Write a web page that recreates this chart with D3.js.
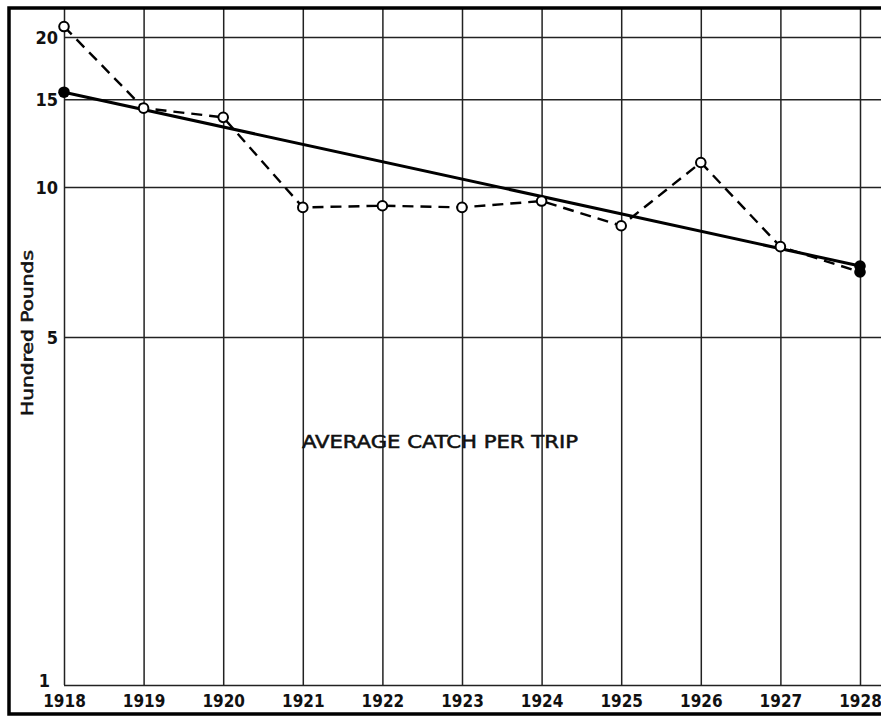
<!DOCTYPE html>
<html>
<head>
<meta charset="utf-8">
<script src="https://cdn.jsdelivr.net/npm/d3@7"></script>
<style>
  html, body { margin: 0; padding: 0; background: #fff; }
  svg { display: block; }
  .lbl { font-family: "Liberation Sans Narrow", "DejaVu Sans Condensed", "Liberation Sans", sans-serif; fill: #111; font-weight: bold; }
  .ttl { font-family: "DejaVu Sans Condensed", "Liberation Sans", sans-serif; fill: #111; stroke: #111; stroke-width: 0.5; }
</style>
</head>
<body>
<svg id="chart" width="881" height="717"></svg>
<script>
// Average catch per trip, hundreds of pounds, 1918-1928
const years = [1918, 1919, 1920, 1921, 1922, 1923, 1924, 1925, 1926, 1927, 1928];
const catchPerTrip = [21.0, 14.4, 13.8, 9.1, 9.17, 9.1, 9.37, 8.36, 11.2, 7.59, 6.75];
// Fitted trend (straight on the log scale), end points
const trendYears = [1918, 1928];
const trendValues = [15.5, 6.94];
const yTicks = [1, 5, 10, 15, 20];
const title = "AVERAGE CATCH PER TRIP";
const yTitle = "Hundred Pounds";

const W = 881, H = 717;
const plotLeft = 64, plotRight = 860, plotTop = 8, plotBottom = 685;
const frameLeft = 9, frameBottom = 714;

const svg = d3.select("#chart");

const x = d3.scaleLinear().domain([1918, 1928]).range([plotLeft, plotRight]);
const y = d3.scaleLog().domain([1, 10]).range([plotBottom, 187]);

// horizontal grid + y labels
const gy = svg.append("g")
  .attr("transform", `translate(${plotLeft},0)`)
  .call(d3.axisLeft(y).tickValues(yTicks).tickSize(-(W - plotLeft)).tickPadding(6).tickFormat(d3.format("d")));
gy.select(".domain").remove();
gy.selectAll(".tick line").attr("stroke", "#222").attr("stroke-width", 1.5);
gy.selectAll(".tick text").attr("class", "lbl").attr("font-size", 18)
  .attr("dy", d => d === 1 ? "0.1em" : "0.36em")
  .attr("dx", d => d === 1 ? -8 : 0);

// vertical grid + year labels
const gx = svg.append("g")
  .attr("transform", `translate(0,${plotBottom})`)
  .call(d3.axisBottom(x).tickValues(years).tickSize(-(plotBottom - plotTop)).tickPadding(10).tickFormat(d3.format("d")));
gx.select(".domain").remove();
gx.selectAll(".tick line").attr("stroke", "#222").attr("stroke-width", 1.5);
gx.selectAll(".tick text").attr("class", "lbl").attr("font-size", 17);

// frame
svg.append("path")
  .attr("d", `M${W},${plotTop}H${frameLeft}V${frameBottom}H${W}`)
  .attr("fill", "none").attr("stroke", "#000").attr("stroke-width", 3.5);

// observed series: dashed with open circles
const pts = years.map((yr, i) => [yr, catchPerTrip[i]]);
const line = d3.line().x(d => x(d[0])).y(d => y(d[1]));
svg.append("path")
  .datum(pts)
  .attr("d", line)
  .attr("fill", "none").attr("stroke", "#000").attr("stroke-width", 2.4)
  .attr("stroke-dasharray", "11,7");

// trend line
const trend = trendYears.map((yr, i) => [yr, trendValues[i]]);
svg.append("path")
  .datum(trend)
  .attr("d", line)
  .attr("fill", "none").attr("stroke", "#000").attr("stroke-width", 3);

svg.append("g").selectAll("circle")
  .data(pts.slice(0, -1))
  .join("circle")
  .attr("cx", d => x(d[0])).attr("cy", d => y(d[1])).attr("r", 4.8)
  .attr("fill", "#fff").attr("stroke", "#000").attr("stroke-width", 2);

// filled end points
svg.append("g").selectAll("circle")
  .data(trend.concat([pts[pts.length - 1]]))
  .join("circle")
  .attr("cx", d => x(d[0])).attr("cy", d => y(d[1])).attr("r", 5.8)
  .attr("fill", "#000");

// titles
svg.append("text")
  .attr("class", "ttl")
  .attr("x", 440).attr("y", 448)
  .attr("text-anchor", "middle")
  .attr("font-size", 18)
  .attr("textLength", 276).attr("lengthAdjust", "spacingAndGlyphs")
  .text(title);

svg.append("text")
  .attr("class", "ttl")
  .attr("transform", "translate(33,333) rotate(-90)")
  .attr("text-anchor", "middle")
  .attr("font-size", 15)
  .attr("textLength", 166).attr("lengthAdjust", "spacingAndGlyphs")
  .text(yTitle);
</script>
</body>
</html>
